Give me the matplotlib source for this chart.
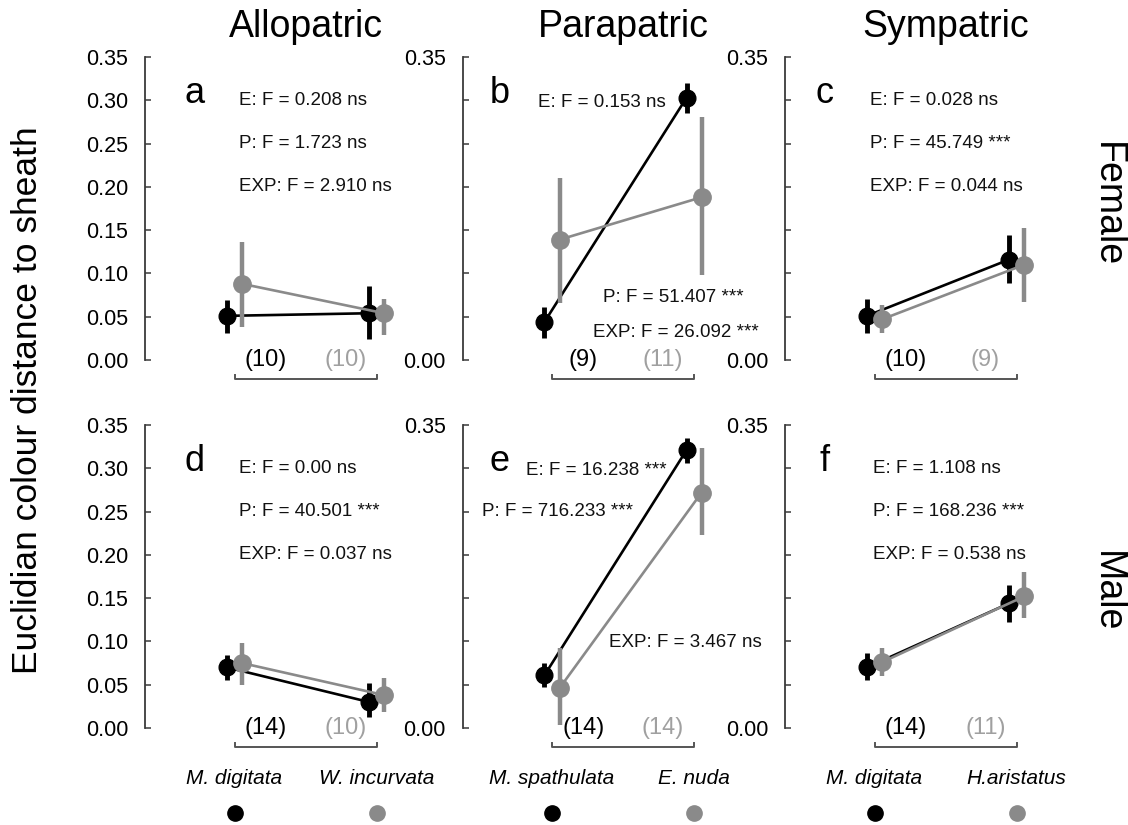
import numpy as np
import matplotlib
matplotlib.use("Agg")
import matplotlib.pyplot as plt
from matplotlib.transforms import blended_transform_factory

plt.rcParams['font.family'] = ['Liberation Sans', 'DejaVu Sans']

# column / row headings
zones = ["Allopatric", "Parapatric", "Sympatric"]
sexes = ["Female", "Male"]
species = [("M. digitata", "W. incurvata"),
           ("M. spathulata", "E. nuda"),
           ("M. digitata", "H.aristatus")]
panel_letters = ["a", "b", "c", "d", "e", "f"]

# means and CI limits, panels a-f; [first species, second species]
black_mean = [[0.051, 0.054], [0.044, 0.303], [0.051, 0.116],
              [0.070, 0.030], [0.061, 0.321], [0.070, 0.144]]
black_lo = [[0.031, 0.024], [0.025, 0.285], [0.031, 0.089],
            [0.055, 0.013], [0.047, 0.306], [0.055, 0.122]]
black_hi = [[0.069, 0.085], [0.061, 0.320], [0.070, 0.144],
            [0.084, 0.052], [0.075, 0.335], [0.087, 0.165]]
gray_mean = [[0.088, 0.054], [0.139, 0.188], [0.047, 0.110],
             [0.075, 0.038], [0.046, 0.272], [0.076, 0.152]]
gray_lo = [[0.038, 0.029], [0.066, 0.098], [0.031, 0.067],
           [0.050, 0.018], [0.003, 0.223], [0.060, 0.127]]
gray_hi = [[0.136, 0.070], [0.210, 0.281], [0.064, 0.152],
           [0.098, 0.058], [0.092, 0.323], [0.092, 0.180]]

sample_sizes = [(10, 10), (9, 11), (10, 9), (14, 10), (14, 14), (14, 11)]

stats = [
    ["E: F = 0.208 ns", "P: F = 1.723 ns", "EXP: F = 2.910 ns"],
    ["E: F = 0.153 ns", "P: F = 51.407 ***", "EXP: F = 26.092 ***"],
    ["E: F = 0.028 ns", "P: F = 45.749 ***", "EXP: F = 0.044 ns"],
    ["E: F = 0.00 ns", "P: F = 40.501 ***", "EXP: F = 0.037 ns"],
    ["E: F = 16.238 ***", "P: F = 716.233 ***", "EXP: F = 3.467 ns"],
    ["E: F = 1.108 ns", "P: F = 168.236 ***", "EXP: F = 0.538 ns"],
]

# where each statistics line sits (x, y in data units)
stat_pos = [
    [(0.03, 0.30), (0.03, 0.25), (0.03, 0.20)],
    [(-0.10, 0.298), (0.36, 0.072), (0.29, 0.032)],
    [(-0.03, 0.30), (-0.03, 0.25), (-0.03, 0.20)],
    [(0.03, 0.30), (0.03, 0.25), (0.03, 0.20)],
    [(-0.18, 0.298), (-0.49, 0.25), (0.40, 0.099)],
    [(-0.01, 0.30), (-0.01, 0.25), (-0.01, 0.20)],
]
letter_x = [-0.28, -0.37, -0.35]

BLACK = "#000000"
GRAY = "#8a8a8a"
NGRAY = "#a0a0a0"
AXC = "#3a3a3a"
dx = 0.053

W, H = 1128, 825
fig = plt.figure(figsize=(W / 100, H / 100), dpi=100)

col_left = [145, 462.5, 785]
row_bottom = [825 - 360, 825 - 728]
ax_w, ax_h = 260, 303

for i in range(6):
    r, c = divmod(i, 3)
    ax = fig.add_axes([col_left[c] / W, row_bottom[r] / H, ax_w / W, ax_h / H])
    ax.set_xlim(-0.63, 1.2)
    ax.set_ylim(0, 0.35)
    for s in ["top", "right", "bottom"]:
        ax.spines[s].set_visible(False)
    ax.spines["left"].set_color(AXC)
    ax.spines["left"].set_linewidth(1.3)
    ax.set_xticks([])
    ticks = np.arange(0, 0.351, 0.05)
    ax.set_yticks(ticks)
    if c == 0:
        ax.set_yticklabels([f"{t:.2f}" for t in ticks])
    else:
        ax.set_yticklabels([f"{t:.2f}" if k in (0, len(ticks) - 1) else ""
                            for k, t in enumerate(ticks)])
    ax.tick_params(axis="y", direction="in", length=4, width=1.1, color=AXC,
                   pad=12, labelsize=15.5)
    ax.patch.set_visible(False)

    x = np.array([0.0, 1.0])
    bm, gm = np.array(black_mean[i]), np.array(gray_mean[i])
    ax.errorbar(x - dx, bm, yerr=[bm - np.array(black_lo[i]), np.array(black_hi[i]) - bm],
                fmt="o-", color=BLACK, ms=12, lw=1.9, elinewidth=3.5, capsize=0,
                clip_on=False, zorder=3)
    ax.errorbar(x + dx, gm, yerr=[gm - np.array(gray_lo[i]), np.array(gray_hi[i]) - gm],
                fmt="o-", color=GRAY, ms=12.5, lw=1.9, elinewidth=3.2, capsize=0,
                clip_on=False, zorder=4)

    # bracket under the pair with sample sizes
    ax.plot([0, 0, 1, 1], [-0.017, -0.0215, -0.0215, -0.017], color="#555555",
            lw=1.4, clip_on=False)
    n1, n2 = sample_sizes[i]
    ax.text(0.22, 0.0, f"({n1})", ha="center", va="center", fontsize=17, color=BLACK)
    ax.text(0.78, 0.0, f"({n2})", ha="center", va="center", fontsize=17, color=NGRAY)

    ax.text(letter_x[c], 0.297, panel_letters[i], ha="center", va="baseline",
            fontsize=26)
    for txt, (tx, ty) in zip(stats[i], stat_pos[i]):
        ax.text(tx, ty, txt, ha="left", va="center", fontsize=13.5, color="#111111")

    if r == 0:
        tr = blended_transform_factory(ax.transData, ax.transAxes)
        ax.text(0.5, 1.10, zones[c], transform=tr, ha="center", va="center",
                fontsize=27)
    else:
        for k, col in enumerate([BLACK, GRAY]):
            ax.text(k, -0.058, species[c][k], ha="center", va="center",
                    fontsize=15, style="italic")
            ax.plot([k], [-0.098], "o", color=col, ms=11, clip_on=False)

fig.text(0.024, 0.515, "Euclidian colour distance to sheath", rotation=90,
         ha="center", va="center", fontsize=25.5)
fig.text(1107 / W, 1 - 205 / H, sexes[0], rotation=270, ha="center",
         va="center", fontsize=27)
fig.text(1107 / W, 1 - 592 / H, sexes[1], rotation=270, ha="center",
         va="center", fontsize=27)

fig.savefig("out.png", dpi=100)
